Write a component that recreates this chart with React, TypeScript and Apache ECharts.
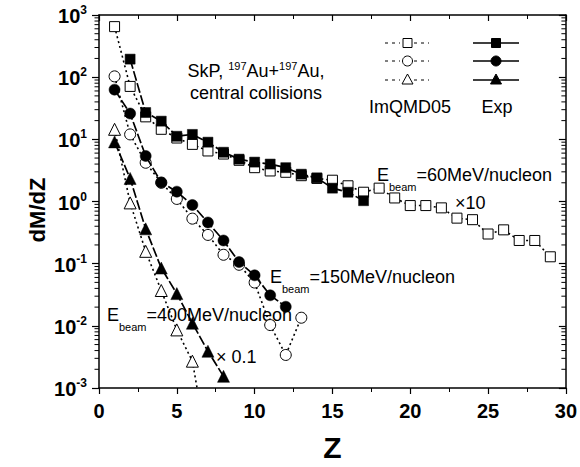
import React, { useEffect, useRef } from "react";
import * as echarts from "echarts";

const FONT = "Liberation Sans, Arial, Helvetica, sans-serif";

const Z60sim = [1, 2, 3, 4, 5, 6, 7, 8, 9, 10, 11, 12, 13, 14, 15, 16, 17, 18, 19, 20, 21, 22, 23, 24, 25, 26, 27, 28, 29];
const V60sim = [650, 71, 23, 14.5, 10.5, 8.3, 6.5, 5.8, 4.6, 3.5, 3.1, 2.95, 2.6, 2.35, 2.2, 1.79, 1.41, 1.64, 1.14, 0.86, 0.86, 0.79, 0.54, 0.51, 0.3, 0.35, 0.236, 0.236, 0.129];
const Z60exp = [2, 3, 4, 5, 6, 7, 8, 9, 10, 11, 12, 13, 14, 15, 16, 17];
const V60exp = [195, 27, 19.6, 11.2, 12, 9, 6.2, 4.8, 4.3, 4.0, 3.5, 2.75, 2.4, 1.64, 1.41, 1.03];

const Z150sim = [1, 2, 3, 4, 5, 6, 7, 8, 9, 10, 11, 12, 13];
const V150sim = [103, 12, 4.2, 2.0, 1.1, 0.53, 0.29, 0.139, 0.096, 0.0497, 0.0103, 0.0034, 0.0135];
const Z150exp = [1, 2, 3, 4, 5, 6, 7, 8, 9, 10, 11, 12];
const V150exp = [63, 26, 5.4, 2.03, 1.44, 0.88, 0.46, 0.236, 0.106, 0.065, 0.031, 0.0203];

const Z400sim = [1, 2, 3, 4, 5, 6, 7];
const V400sim = [14.5, 0.95, 0.158, 0.037, 0.0086, 0.0027, 0.0001];
const Z400exp = [1, 2, 3, 4, 5, 6, 7, 8];
const V400exp = [9.1, 2.35, 0.363, 0.085, 0.033, 0.011, 0.0039, 0.00154];

const DECADES = [-3, -2, -1, 0, 1, 2];
const MINOR_K = [2, 3, 4, 5, 6, 7, 8, 9];

const Y_MIN = 0.001;
const Y_MAX = 1000;
const X_MIN = 0;
const X_MAX = 30;

const DOT: number[] = [2, 3];
const DASH: number[] = [10, 2.5];

function pairs(xs: number[], ys: number[], hideAfter?: number) {
  return xs.map((x, i) => {
    if (hideAfter !== undefined && i >= hideAfter) {
      return { value: [x, ys[i]], symbol: "none" };
    }
    return [x, ys[i]];
  });
}

function simSeries(name: string, xs: number[], ys: number[], symbol: string, size: number, hideAfter?: number) {
  return {
    name,
    type: "line",
    data: pairs(xs, ys, hideAfter),
    symbol,
    symbolSize: size,
    showAllSymbol: true,
    lineStyle: { color: "#000", width: 1.6, type: DOT },
    itemStyle: { color: "#fff", borderColor: "#000", borderWidth: 1 },
    z: 3,
  };
}

function expSeries(name: string, xs: number[], ys: number[], symbol: string, size: number) {
  return {
    name,
    type: "line",
    data: pairs(xs, ys),
    symbol,
    symbolSize: size,
    showAllSymbol: true,
    lineStyle: { color: "#000", width: 1.7, type: DASH },
    itemStyle: { color: "#000", borderColor: "#000", borderWidth: 0.5 },
    z: 4,
  };
}

const textBase = { fontFamily: FONT, fill: "#000" };

function ebeam(label: string) {
  return `{e|E}{b|beam}{e|${label}}`;
}

const ebeamRich = {
  e: { fontSize: 18, fontFamily: FONT, fill: "#000", lineHeight: 20, verticalAlign: "top" },
  b: { fontSize: 11, fontFamily: FONT, fill: "#000", lineHeight: 11, verticalAlign: "bottom", padding: [0, 0, -6, 0] },
};

function legendRow(y: number, kind: string) {
  const items: any[] = [];
  items.push({
    type: "line",
    shape: { x1: 385, y1: y, x2: 400, y2: y },
    style: { stroke: "#000", lineWidth: 1, lineDash: [3, 4] },
  });
  items.push({
    type: "line",
    shape: { x1: 414, y1: y, x2: 429, y2: y },
    style: { stroke: "#000", lineWidth: 1, lineDash: [3, 4] },
  });
  items.push({
    type: "line",
    shape: { x1: 473, y1: y, x2: 519, y2: y },
    style: { stroke: "#000", lineWidth: 1.6 },
  });
  const open = { fill: "#fff", stroke: "#000", lineWidth: 1 };
  const full = { fill: "#000", stroke: "#000", lineWidth: 1 };
  if (kind === "square") {
    items.push({ type: "rect", shape: { x: 403, y: y - 4.5, width: 9, height: 9 }, style: open });
    items.push({ type: "rect", shape: { x: 491.5, y: y - 4.5, width: 9, height: 9 }, style: full });
  } else if (kind === "circle") {
    items.push({ type: "circle", shape: { cx: 407.5, cy: y, r: 5 }, style: open });
    items.push({ type: "circle", shape: { cx: 496, cy: y, r: 5 }, style: full });
  } else {
    items.push({ type: "polygon", shape: { points: [[407.5, y - 6], [413, y + 4], [402, y + 4]] }, style: open });
    items.push({ type: "polygon", shape: { points: [[496, y - 6], [501.5, y + 4], [490.5, y + 4]] }, style: full });
  }
  return items;
}

export default function App() {
  const ref = useRef<HTMLDivElement>(null);

  useEffect(() => {
    if (!ref.current) return;
    const chart = echarts.init(ref.current, undefined, { renderer: "svg" });

    const minorTickData: number[][] = [];
    DECADES.forEach((d) => {
      MINOR_K.forEach((k) => {
        minorTickData.push([X_MIN, k * Math.pow(10, d)]);
      });
    });

    const axisLabelStyle = {
      fontFamily: FONT,
      fontSize: 20,
      fontWeight: "bold" as const,
      color: "#000",
    };

    const option: any = {
      animation: false,
      backgroundColor: "#fff",
      grid: { left: 99, right: 14, top: 15, bottom: 77, containLabel: false },
      xAxis: [
        {
          type: "value",
          min: X_MIN,
          max: X_MAX,
          interval: 5,
          position: "bottom",
          name: "Z",
          nameLocation: "middle",
          nameGap: 44,
          nameTextStyle: { fontFamily: FONT, fontSize: 30, fontWeight: "bold", color: "#000" },
          axisLine: { show: true, onZero: false, lineStyle: { color: "#000", width: 1.5 } },
          axisTick: { show: true, inside: false, length: 6, lineStyle: { color: "#000", width: 1.2 } },
          minorTick: { show: true, splitNumber: 2, length: 4, lineStyle: { color: "#000", width: 1 } },
          axisLabel: { ...axisLabelStyle, margin: 13 },
          splitLine: { show: false },
        },
        {
          type: "value",
          min: X_MIN,
          max: X_MAX,
          interval: 5,
          position: "top",
          axisLine: { show: true, onZero: false, lineStyle: { color: "#000", width: 1.5 } },
          axisTick: { show: true, inside: true, length: 6, lineStyle: { color: "#000", width: 1.2 } },
          minorTick: { show: true, splitNumber: 2, length: 4, lineStyle: { color: "#000", width: 1 } },
          axisLabel: { show: false },
          splitLine: { show: false },
        },
      ],
      yAxis: [
        {
          type: "log",
          logBase: 10,
          min: Y_MIN,
          max: Y_MAX,
          interval: 1,
          position: "left",
          axisLine: { show: true, onZero: false, lineStyle: { color: "#000", width: 1.5 } },
          axisTick: { show: true, inside: false, length: 7, lineStyle: { color: "#000", width: 1.2 } },
          axisLabel: {
            margin: 12,
            formatter: (v: number) => {
              const e = Math.round(Math.log10(v));
              return `{b|10}{s|${e}}`;
            },
            rich: {
              b: { ...axisLabelStyle, lineHeight: 22, verticalAlign: "bottom" },
              s: { fontFamily: FONT, fontSize: 12, fontWeight: "bold", color: "#000", lineHeight: 12, verticalAlign: "top" },
            },
          },
          splitLine: { show: false },
        },
        {
          type: "log",
          logBase: 10,
          min: Y_MIN,
          max: Y_MAX,
          interval: 1,
          position: "right",
          axisLine: { show: true, onZero: false, lineStyle: { color: "#000", width: 1.5 } },
          axisTick: { show: true, inside: true, length: 7, lineStyle: { color: "#000", width: 1.2 } },
          axisLabel: { show: false },
          splitLine: { show: false },
        },
      ],
      series: [
        {
          type: "custom",
          name: "minorTicks",
          xAxisIndex: 0,
          yAxisIndex: 0,
          clip: false,
          silent: true,
          data: minorTickData,
          renderItem: (params: any, api: any) => {
            const v = api.value(1);
            const pl = api.coord([X_MIN, v]);
            const pr = api.coord([X_MAX, v]);
            return {
              type: "group",
              children: [
                { type: "line", shape: { x1: pl[0] - 4.5, y1: pl[1], x2: pl[0], y2: pl[1] }, style: { stroke: "#000", lineWidth: 1 } },
                { type: "line", shape: { x1: pr[0] - 4.5, y1: pr[1], x2: pr[0], y2: pr[1] }, style: { stroke: "#000", lineWidth: 1 } },
              ],
            };
          },
          z: 1,
        },
        simSeries("sim60", Z60sim, V60sim, "rect", 10),
        simSeries("sim150", Z150sim, V150sim, "circle", 11),
        simSeries("sim400", Z400sim, V400sim, "triangle", 12, 6),
        expSeries("exp60", Z60exp, V60exp, "rect", 10),
        expSeries("exp150", Z150exp, V150exp, "circle", 11),
        expSeries("exp400", Z400exp, V400exp, "triangle", 12),
      ],
      graphic: [
        {
          type: "text",
          x: 37,
          y: 210,
          rotation: Math.PI / 2,
          style: { ...textBase, text: "dM/dZ", fontSize: 22, fontWeight: "bold", align: "center", verticalAlign: "middle" },
        },
        {
          type: "text",
          x: 256,
          y: 70,
          style: {
            ...textBase,
            text: "{n|SkP, }{s|197}{n|Au+}{s|197}{n|Au,}",
            align: "center",
            verticalAlign: "middle",
            rich: {
              n: { fontSize: 18, fontFamily: FONT, fill: "#000", lineHeight: 20, verticalAlign: "bottom" },
              s: { fontSize: 11, fontFamily: FONT, fill: "#000", lineHeight: 11, verticalAlign: "top" },
            },
          },
        },
        {
          type: "text",
          x: 256,
          y: 93,
          style: { ...textBase, text: "central collisions", fontSize: 18, align: "center", verticalAlign: "middle" },
        },
        ...legendRow(43, "square"),
        ...legendRow(61, "circle"),
        ...legendRow(80, "triangle"),
        {
          type: "text",
          x: 410,
          y: 107,
          style: { ...textBase, text: "ImQMD05", fontSize: 18, align: "center", verticalAlign: "middle" },
        },
        {
          type: "text",
          x: 497,
          y: 107,
          style: { ...textBase, text: "Exp", fontSize: 18, align: "center", verticalAlign: "middle" },
        },
        {
          type: "text",
          x: 377,
          y: 166,
          style: { ...textBase, text: ebeam("=60MeV/nucleon"), align: "left", verticalAlign: "top", rich: ebeamRich },
        },
        {
          type: "text",
          x: 455,
          y: 203,
          style: { ...textBase, text: "\u00d710", fontSize: 18, align: "left", verticalAlign: "middle" },
        },
        {
          type: "text",
          x: 270,
          y: 268,
          style: { ...textBase, text: ebeam("=150MeV/nucleon"), align: "left", verticalAlign: "top", rich: ebeamRich },
        },
        {
          type: "text",
          x: 107,
          y: 306,
          style: { ...textBase, text: ebeam("=400MeV/nucleon"), align: "left", verticalAlign: "top", rich: ebeamRich },
        },
        {
          type: "text",
          x: 216,
          y: 357,
          style: { ...textBase, text: "\u00d7 0.1", fontSize: 18, align: "left", verticalAlign: "middle" },
        },
      ],
    };

    chart.setOption(option);
    return () => chart.dispose();
  }, []);

  return <div ref={ref} style={{ position: "fixed", left: 0, top: 0, width: 580, height: 467 }} />;
}
